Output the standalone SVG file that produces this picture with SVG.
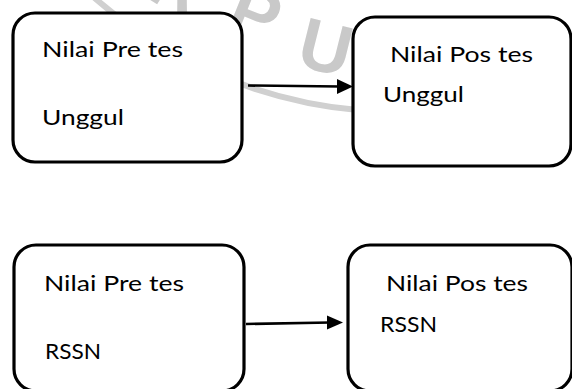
<svg xmlns="http://www.w3.org/2000/svg" width="572" height="389" viewBox="0 0 572 389">
<style>
.box{fill:#ffffff;stroke:#000000;stroke-width:3.2}
.lbl{font-family:Lato,"Open Sans","Liberation Sans",sans-serif;font-size:22px;fill:#000000}
.wm{font-family:"Liberation Sans",Arial,sans-serif;font-weight:bold;font-size:72px;fill:#c9c9c9;text-anchor:middle}
.wmarc{fill:none;stroke:#d0d0d0;stroke-width:6}
.conn{stroke:#000000;stroke-width:2.6;fill:none}
.head{fill:#000000}
</style>
<rect width="572" height="389" fill="#ffffff"/>
<g id="watermark">
<path class="wmarc" d="M 85 -10.6 A 466 466 0 0 0 360 110.3"/>
<text class="wm" transform="translate(180,-12) rotate(32)" x="0" y="26">R</text>
<text class="wm" transform="translate(256,12) rotate(22)" x="0" y="26">P</text>
<text class="wm" transform="translate(326,46) rotate(14)" x="0" y="26">U</text>
</g>
<g id="node-pre-unggul">
<rect class="box" x="13" y="13" width="229" height="149" rx="22" ry="22"/>
<text class="lbl" x="42" y="57" textLength="141" lengthAdjust="spacingAndGlyphs">Nilai Pre tes</text>
<text class="lbl" x="42" y="125" textLength="82" lengthAdjust="spacingAndGlyphs">Unggul</text>
</g>
<g id="node-pos-unggul">
<rect class="box" x="353" y="17" width="218" height="149" rx="22" ry="22"/>
<text class="lbl" x="390" y="62" textLength="143" lengthAdjust="spacingAndGlyphs">Nilai Pos tes</text>
<text class="lbl" x="383" y="102" textLength="81" lengthAdjust="spacingAndGlyphs">Unggul</text>
</g>
<g id="node-pre-rssn">
<rect class="box" x="14" y="245" width="230" height="146" rx="22" ry="22"/>
<text class="lbl" x="44" y="291" textLength="140" lengthAdjust="spacingAndGlyphs">Nilai Pre tes</text>
<text class="lbl" x="45" y="359" textLength="56" lengthAdjust="spacingAndGlyphs">RSSN</text>
</g>
<g id="node-pos-rssn">
<rect class="box" x="348" y="245" width="224" height="146" rx="22" ry="22"/>
<text class="lbl" x="386" y="291" textLength="142" lengthAdjust="spacingAndGlyphs">Nilai Pos tes</text>
<text class="lbl" x="380" y="332" textLength="57" lengthAdjust="spacingAndGlyphs">RSSN</text>
</g>
<g id="connectors">
<line class="conn" x1="248" y1="85.5" x2="340" y2="86.5"/>
<polygon class="head" points="337,79 353,86.5 337,94"/>
<line class="conn" x1="246" y1="324" x2="330" y2="322.5"/>
<polygon class="head" points="327,315.5 343,322.5 327,329.5"/>
</g>
</svg>
